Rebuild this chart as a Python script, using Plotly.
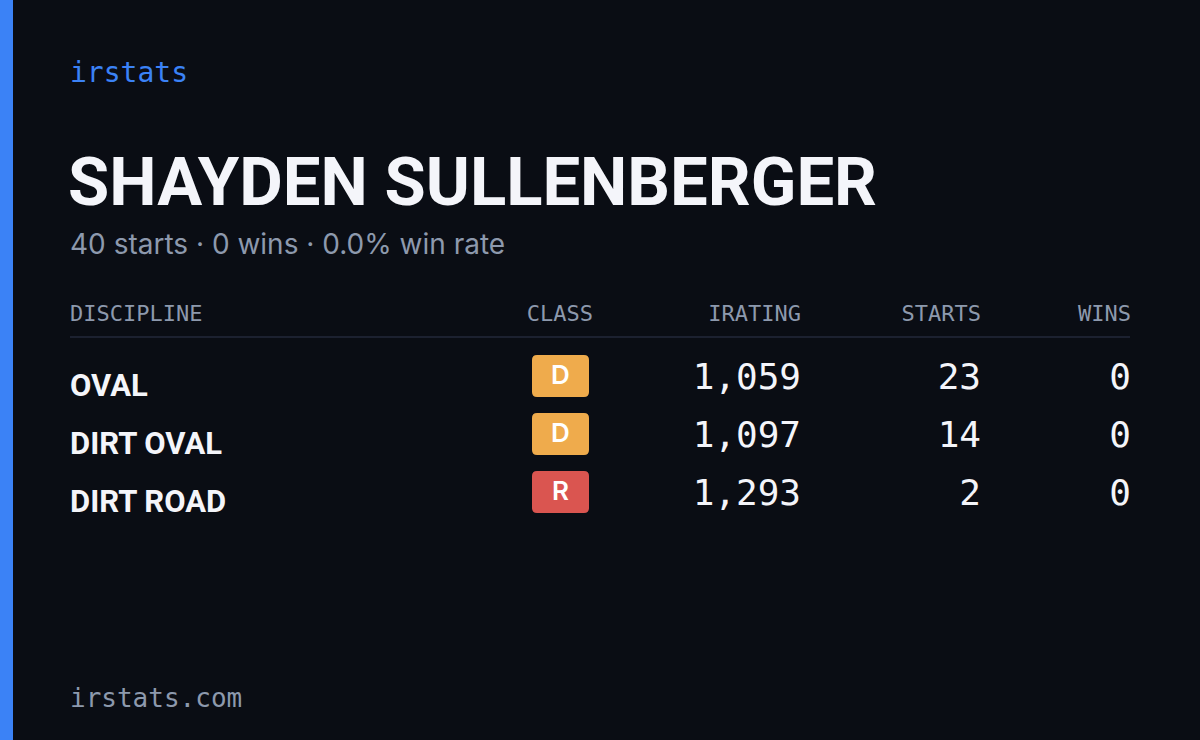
import plotly.graph_objects as go

disciplines = ["OVAL", "DIRT OVAL", "DIRT ROAD"]
classes = ["D", "D", "R"]
class_colors = ["#efab4c", "#efab4c", "#da5550"]
iratings = [1059, 1097, 1293]
starts = [23, 14, 2]
wins = [0, 0, 0]
headers = ["DISCIPLINE", "CLASS", "IRATING", "STARTS", "WINS"]
name = "SHAYDEN SULLENBERGER"
total_starts = 40
total_wins = 0
win_rate = 0.0

BG = "#0a0d14"
COND = "Roboto, sans-serif"
MONO = "DejaVu Sans Mono, Liberation Mono, monospace"

fig = go.Figure()
row_y = [384, 442, 500]

fig.add_shape(type="rect", x0=0, x1=13, y0=0, y1=740, fillcolor="#3b82f6", line_width=0, layer="below")
fig.add_shape(type="line", x0=70, x1=1130, y0=337, y1=337, line=dict(color="#1c2130", width=2), layer="below")

fig.add_trace(go.Scatter(x=[70], y=[75], mode="text", text=["irstats"], textposition="middle right",
                         textfont=dict(family=MONO, size=28, color="#3b82f6")))
fig.add_trace(go.Scatter(x=[68], y=[188], mode="text", text=[f"<b>{name}</b>"], textposition="middle right",
                         textfont=dict(family=COND, size=67, color="#f4f5fa")))
fig.add_trace(go.Scatter(x=[70], y=[247], mode="text",
                         text=[f"{total_starts} starts · {total_wins} wins · {win_rate:.1f}% win rate"],
                         textposition="middle right",
                         textfont=dict(family="Inter, sans-serif", size=28, color="#8d99ad")))
fig.add_trace(go.Scatter(x=[70], y=[700], mode="text", text=["irstats.com"], textposition="middle right",
                         textfont=dict(family=MONO, size=26, color="#8d99ad")))

hx = [70, 593, 801, 981, 1131]
hpos = ["middle right", "middle left", "middle left", "middle left", "middle left"]
for x, h, p in zip(hx, headers, hpos):
    fig.add_trace(go.Scatter(x=[x], y=[315], mode="text", text=[h], textposition=p,
                             textfont=dict(family=MONO, size=22, color="#8d99ad")))

for i, y in enumerate(row_y):
    fig.add_trace(go.Scatter(x=[70], y=[y + 4], mode="text", text=[f"<b>{disciplines[i]}</b>"],
                             textposition="middle right",
                             textfont=dict(family=COND, size=31, color="#f4f5fa")))
    by = y - 8
    fig.add_shape(type="path",
                  path=f"M 537 {by-21} L 584 {by-21} Q 589 {by-21} 589 {by-16} L 589 {by+16} Q 589 {by+21} 584 {by+21} "
                       f"L 537 {by+21} Q 532 {by+21} 532 {by+16} L 532 {by-16} Q 532 {by-21} 537 {by-21} Z",
                  fillcolor=class_colors[i], line_width=0, layer="below")
    fig.add_trace(go.Scatter(x=[560.5], y=[by + 1], mode="text", text=[classes[i]],
                             textposition="middle center",
                             textfont=dict(family="Inter, sans-serif", size=26, color="#ffffff", weight=600)))
    for x, v in zip([801, 981, 1131], [f"{iratings[i]:,}", str(starts[i]), str(wins[i])]):
        fig.add_trace(go.Scatter(x=[x], y=[y - 4], mode="text", text=[v], textposition="middle left",
                                 textfont=dict(family=MONO, size=36, color="#f4f5fa")))

fig.update_layout(width=1200, height=740, margin=dict(l=0, r=0, t=0, b=0),
                  paper_bgcolor=BG, plot_bgcolor=BG, showlegend=False,
                  xaxis=dict(range=[0, 1200], visible=False, fixedrange=True),
                  yaxis=dict(range=[740, 0], visible=False, fixedrange=True))
fig.write_html("out.html", config={"displayModeBar": False},
               post_script="document.body.style.margin='0';document.body.style.background='#0a0d14';")
